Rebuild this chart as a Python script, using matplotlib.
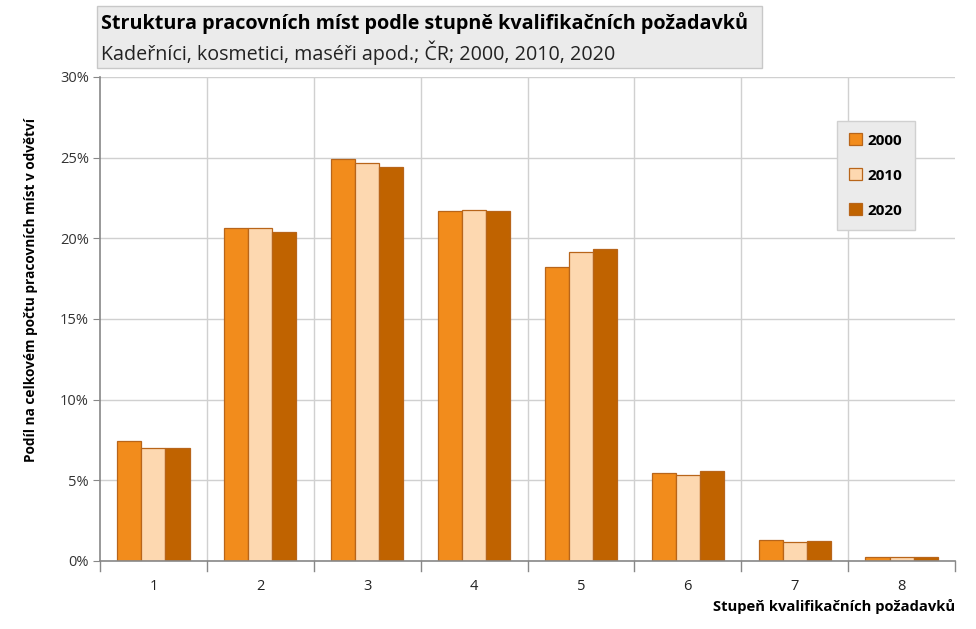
import numpy as np
import matplotlib
matplotlib.use("Agg")
from matplotlib import pyplot as plt
from matplotlib.patches import Rectangle

plt.rcParams['font.family'] = ['Open Sans', 'DejaVu Sans']

# data
categories = ['1', '2', '3', '4', '5', '6', '7', '8']
years = ['2000', '2010', '2020']
share_2000 = [7.45, 20.65, 24.9, 21.7, 18.2, 5.45, 1.3, 0.25]
share_2010 = [7.0, 20.65, 24.65, 21.75, 19.15, 5.3, 1.2, 0.25]
share_2020 = [7.0, 20.4, 24.4, 21.7, 19.35, 5.55, 1.25, 0.25]
colors = ['#F28C1C', '#FDD8B0', '#C06300']
edge = '#B8651A'


def main():
	fig = plt.figure(figsize=(9.76, 6.29), dpi=100)
	ax = fig.add_axes([100/976, 68/629, 855/976, 484/629])

	x = np.arange(len(categories))
	w = 0.225
	for i, (vals, col, yr) in enumerate(zip([share_2000, share_2010, share_2020], colors, years)):
		ax.bar(x + (i - 1) * w, vals, w, color=col, edgecolor=edge, linewidth=0.9, label=yr, zorder=3)

	ax.set_xlim(-0.5, len(categories) - 0.5)
	ax.set_ylim(0, 30)
	ax.set_yticks(np.arange(0, 31, 5))
	ax.set_yticklabels(['{}%'.format(v) for v in range(0, 31, 5)], color='#333333', fontsize=10.5)
	ax.set_xticks(x)
	ax.set_xticklabels(categories, fontsize=10.5, color='#222222')
	ax.tick_params(axis='x', length=0, pad=13)
	ax.tick_params(axis='y', length=5, color='#888888', direction='out', pad=3)

	# gridlines: horizontal at ticks, vertical at category boundaries
	ax.yaxis.grid(True, color='#D0D0D0', linewidth=1, zorder=0)
	for b in np.arange(0.5, len(categories) - 0.5, 1):
		ax.axvline(b, color='#D0D0D0', linewidth=1, zorder=0)
	for b in np.arange(-0.5, len(categories) + 0.5, 1):
		ax.plot([b, b], [0, -0.6], color='#888888', linewidth=1, clip_on=False, zorder=4)

	for s in ['top', 'right']:
		ax.spines[s].set_visible(False)
	for s in ['left', 'bottom']:
		ax.spines[s].set_color('#888888')
		ax.spines[s].set_linewidth(1.2)
		ax.spines[s].set_zorder(4)

	ax.set_ylabel('Podíl na celkovém počtu pracovních míst v odvětví', fontsize=9.8, fontweight='bold')
	ax.yaxis.set_label_coords(-0.072, (561 - 290) / 484)
	fig.text(955/976, 1 - 607/629, 'Stupeň kvalifikačních požadavků', ha='right', va='center', fontsize=10.6, fontweight='bold')

	# title box
	fig.patches.append(Rectangle((97/976, 1 - 68/629), 665/976, 62/629, transform=fig.transFigure,
		facecolor='#EBEBEB', edgecolor='#C8C8C8', linewidth=1, zorder=0))
	fig.text(101/976, 1 - 23/629, 'Struktura pracovních míst podle stupně kvalifikačních požadavků',
		fontsize=14.2, fontweight='bold', va='center', ha='left')
	fig.text(101/976, 1 - 53/629, 'Kadeřníci, kosmetici, maséři apod.; ČR; 2000, 2010, 2020',
		fontsize=14.2, va='center', ha='left', color='#222222')

	leg = ax.legend(loc='upper left', bbox_to_anchor=((837-100)/855, 1 - (121-77)/484),
		frameon=True, fancybox=False, prop={'weight': 'bold', 'size': 11},
		handlelength=0.85, handleheight=0.85, labelspacing=1.35, borderpad=0.8, handletextpad=0.35,
		borderaxespad=0)
	leg.get_frame().set_facecolor('#EBEBEB')
	leg.get_frame().set_edgecolor('#D0D0D0')
	leg.get_frame().set_alpha(1)

	plt.savefig('out.png', dpi=100)


if __name__ == "__main__":
	main()
